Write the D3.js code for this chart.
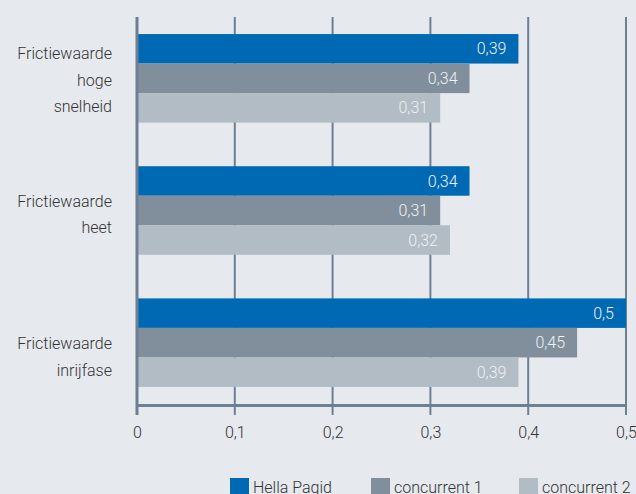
<!DOCTYPE html>
<html>
<head>
<meta charset="utf-8">
<script src="https://cdn.jsdelivr.net/npm/d3@7"></script>
<style>
  html, body { margin: 0; padding: 0; background: #e6e9ee; }
  svg { display: block; }
  text { font-family: Roboto, "DejaVu Sans", sans-serif; }
</style>
</head>
<body>
<svg id="chart" width="636" height="494"></svg>
<script>
const categories = [
  ["Frictiewaarde", "hoge", "snelheid"],
  ["Frictiewaarde", "heet"],
  ["Frictiewaarde", "inrijfase"]
];
const seriesNames = ["Hella Pagid", "concurrent 1", "concurrent 2"];
const hellaPagid   = [0.39, 0.34, 0.5];
const concurrent1  = [0.34, 0.31, 0.45];
const concurrent2  = [0.31, 0.32, 0.39];
const xTicks = [0, 0.1, 0.2, 0.3, 0.4, 0.5];
const colors = ["#0069b4", "#808f9b", "#b1bcc5"];

const series = [hellaPagid, concurrent1, concurrent2];
const svg = d3.select("#chart");
const fmt = v => String(v).replace(".", ",");

const x = d3.scaleLinear().domain([0, 0.5]).range([137, 626]);
const y0 = d3.scaleBand().domain(d3.range(categories.length))
  .range([12.25, 408.75]).paddingInner(0.33).paddingOuter(0.165);
const y1 = d3.scaleBand().domain(d3.range(series.length)).range([0, y0.bandwidth()]);

const axisY = 405;
const gridColor = "#6f7f93";

// grid lines
svg.append("g").selectAll("line").data(xTicks).join("line")
  .attr("x1", d => x(d)).attr("x2", d => x(d))
  .attr("y1", 17).attr("y2", 415)
  .attr("stroke", gridColor).attr("stroke-width", 2);

// bars
const groups = svg.append("g").selectAll("g").data(categories).join("g")
  .attr("transform", (d, i) => `translate(0,${y0(i)})`);

groups.each(function(cat, ci) {
  const g = d3.select(this);
  series.forEach((s, si) => {
    g.append("rect")
      .attr("x", x(0) + 1)
      .attr("y", y1(si))
      .attr("width", x(s[ci]) - x(0) - 1)
      .attr("height", y1.bandwidth())
      .attr("fill", colors[si]);
    g.append("text")
      .attr("x", x(s[ci]) - 12)
      .attr("y", y1(si) + y1.bandwidth() / 2)
      .attr("dy", "0.35em")
      .attr("text-anchor", "end")
      .attr("fill", "#eef1f5")
      .attr("font-size", 16)
      .attr("font-weight", 300)
      .text(fmt(s[ci]));
  });
});

// x axis
const xAxis = d3.axisBottom(x).tickValues(xTicks).tickSize(0).tickPadding(22)
  .tickFormat(fmt);
const ax = svg.append("g").attr("transform", `translate(0,${axisY})`).call(xAxis);
ax.select(".domain").attr("stroke", gridColor).attr("stroke-width", 3);
ax.selectAll(".tick text").attr("font-size", 16).attr("fill", "#333")
  .attr("font-weight", 300)
  .attr("font-family", "Roboto, sans-serif");

// vertical axis line
svg.append("line").attr("x1", x(0)).attr("x2", x(0)).attr("y1", 17).attr("y2", 415)
  .attr("stroke", gridColor).attr("stroke-width", 3);

// category labels
const labelShift = [2, 4, 14];
categories.forEach((lines, ci) => {
  const cy = y0(ci) + y0.bandwidth() / 2 + labelShift[ci];
  const lh = 26.5;
  const t = svg.append("text")
    .attr("text-anchor", "end").attr("font-size", 16).attr("fill", "#333")
    .attr("font-weight", 300);
  lines.forEach((ln, li) => {
    t.append("tspan").attr("x", 112)
      .attr("y", cy + (li - (lines.length - 1) / 2) * lh)
      .attr("dy", "0.35em").text(ln);
  });
});

// legend
const legendX = [230, 371, 519];
const legend = svg.append("g");
seriesNames.forEach((n, i) => {
  legend.append("rect").attr("x", legendX[i]).attr("y", 478)
    .attr("width", 19).attr("height", 19).attr("fill", colors[i]);
  legend.append("text").attr("x", legendX[i] + 23).attr("y", 493)
    .attr("font-size", 16).attr("fill", "#333").attr("font-weight", 300).text(n);
});
</script>
</body>
</html>
